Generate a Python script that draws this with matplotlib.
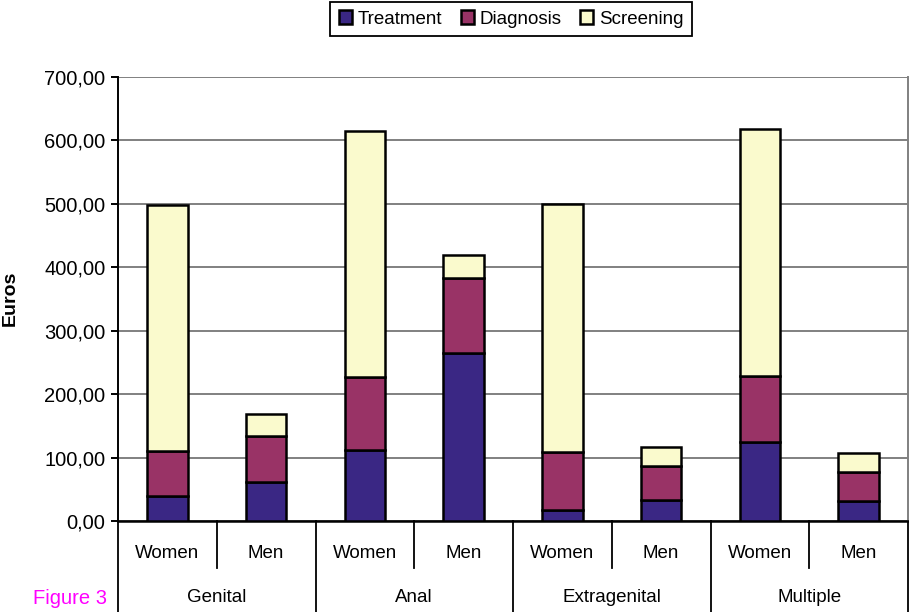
import matplotlib.pyplot as plt
from matplotlib.transforms import blended_transform_factory
import numpy as np

plt.rcParams.update({
    'font.family': ['Liberation Sans', 'DejaVu Sans'],
    'font.size': 13,
})

# Data
groups = ["Genital", "Anal", "Extragenital", "Multiple"]
sexes = ["Women", "Men"]
treatment = [40, 62, 112, 265, 17, 33, 125, 32]
diagnosis = [70, 72, 115, 118, 92, 54, 104, 45]
screening = [388, 34, 388, 37, 391, 30, 389, 30]
yticks = [0, 100, 200, 300, 400, 500, 600, 700]

colors = {"Treatment": "#3A2784", "Diagnosis": "#993366", "Screening": "#FAFACD"}

fig = plt.figure(figsize=(9.09, 6.12), dpi=100)
ax = fig.add_axes([118 / 909, 91 / 612, 790 / 909, 444 / 612])

x = np.arange(len(treatment))
w = 0.41
t = np.array(treatment)
d = np.array(diagnosis)
s = np.array(screening)
kw = dict(width=w, edgecolor="black", linewidth=1.8, zorder=3)
ax.bar(x, t, color=colors["Treatment"], label="Treatment", **kw)
ax.bar(x, d, bottom=t, color=colors["Diagnosis"], label="Diagnosis", **kw)
ax.bar(x, s, bottom=t + d, color=colors["Screening"], label="Screening", **kw)

ax.set_xlim(-0.5, len(x) - 0.5)
ax.set_ylim(0, 700)
ax.set_yticks(yticks)
ax.set_yticklabels([f"{v:.2f}".replace(".", ",") for v in yticks], fontsize=14.5)
ax.tick_params(axis="y", direction="out", length=5, width=1.4, pad=4)
ax.yaxis.grid(True, color="#808080", linewidth=1.4, zorder=0)
ax.set_xticks([])

ax.spines["top"].set_visible(False)
ax.spines["right"].set_color("#808080")
ax.spines["right"].set_linewidth(1.4)
ax.spines["left"].set_linewidth(1.4)
ax.spines["bottom"].set_linewidth(1.8)

# Two-level category axis
trans = blended_transform_factory(ax.transData, ax.transAxes)
ax_h = 444
row1 = -47 / ax_h
row2 = -91 / ax_h
for i in range(len(x)):
    ax.text(i, -32 / ax_h, sexes[i % 2], transform=trans, ha="center", va="center",
            fontsize=13.5)
for b in np.arange(-0.5, len(x), 1.0):
    k = int(b + 0.5)
    y_end = row2 if k % 2 == 0 else row1
    ax.plot([b, b], [0, y_end], transform=trans, color="black",
            linewidth=1.3, clip_on=False)
for g, name in enumerate(groups):
    ax.text(2 * g + 0.5, -77 / ax_h, name, transform=trans,
            ha="center", va="center", fontsize=13.5)

fig.text(10 / 909, 1 - 298 / 612, "Euros", rotation=90, fontweight="bold",
         ha="center", va="center", fontsize=14)
fig.text(33 / 909, 1 - 598 / 612, "Figure 3", color="#FF00FF",
         ha="left", va="center", fontsize=14.5)

leg = fig.legend(loc="upper center", bbox_to_anchor=(511 / 909, 1.012), ncol=3,
                 fancybox=False, edgecolor="black", framealpha=1,
                 handlelength=0.7, handleheight=0.7, handletextpad=0.3,
                 columnspacing=1.0, borderpad=0.45, fontsize=13.5)
leg.get_frame().set_linewidth(1.3)

fig.savefig("out.png", dpi=100)
